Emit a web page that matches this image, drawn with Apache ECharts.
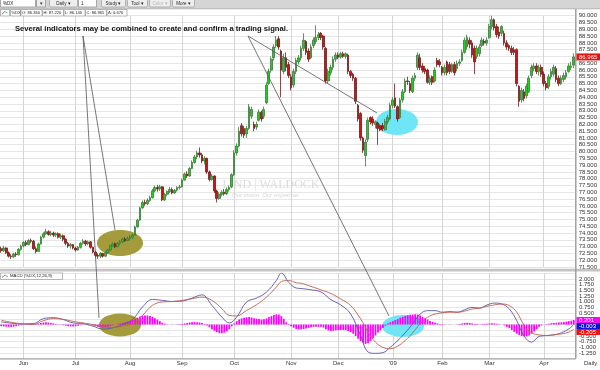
<!DOCTYPE html>
<html><head><meta charset="utf-8">
<script src="https://cdn.jsdelivr.net/npm/echarts@6/dist/echarts.min.js"></script>
<style>html,body{margin:0;padding:0;background:#fff;}#c{width:600px;height:370px;}</style>
</head><body><div id="c"></div>
<script>
// ---------- DATA ----------
const monthLabels = ['Jun','Jul','Aug','Sep','Oct','Nov','Dec',"'09",'Feb','Mar','Apr'];
const monthStartIdx = [9,30,52,73,94,117,136,158,178,197,219];
const symbol = '%DX';
const annotation = 'Several indicators may be combined to create and confirm a trading signal.';

const opens = [72.85,72.70,72.90,72.55,72.30,72.25,72.45,72.40,72.80,
73.05,73.30,73.15,73.45,73.40,72.85,72.65,73.20,73.70,73.95,74.10,73.90,74.00,73.85,73.95,73.70,73.80,73.55,73.25,73.05,73.15,
72.90,72.75,72.95,73.25,73.40,73.20,73.35,72.95,72.60,72.35,72.30,72.50,72.30,72.55,72.75,73.05,73.20,73.00,73.25,73.35,73.55,73.45,
73.60,73.70,73.85,74.45,74.95,75.85,76.25,76.15,76.40,76.60,77.10,77.35,77.25,77.40,76.45,76.85,77.05,77.20,76.95,77.15,77.35,
77.40,77.90,78.35,78.20,78.75,79.20,79.60,79.90,79.75,79.30,79.50,78.50,77.95,78.20,77.10,76.55,76.85,77.00,76.90,77.20,77.40,
78.30,79.90,80.40,81.90,81.70,81.30,81.70,82.60,82.00,81.80,82.30,82.90,82.60,83.60,85.00,86.00,86.90,87.80,88.30,87.40,85.90,86.90,86.40,
85.50,84.90,85.90,86.60,86.90,87.60,88.10,87.40,86.90,87.80,88.10,88.40,88.70,88.50,87.60,85.20,85.80,86.20,86.80,
87.10,86.95,87.20,87.00,87.10,85.90,85.70,85.40,83.40,82.80,81.00,79.70,80.90,82.50,82.40,82.00,82.10,81.90,81.90,81.60,82.20,82.40,
83.40,83.95,83.30,82.50,83.80,84.40,85.20,85.00,84.40,85.40,86.20,86.90,86.30,86.10,86.00,85.10,85.50,85.20,86.70,86.60,
86.20,85.80,86.60,86.40,85.90,86.40,86.10,86.50,86.70,87.30,87.70,88.20,88.00,87.60,87.00,87.20,87.80,88.10,88.00,
88.40,89.20,89.70,89.20,88.80,88.70,88.70,88.00,87.80,87.60,87.50,87.50,84.80,83.80,84.40,84.10,84.40,85.60,86.10,86.30,85.90,86.20,
85.70,85.00,84.80,85.50,85.70,86.10,85.40,85.00,85.30,85.50,85.90,86.20,86.360];
const closes = [72.70,72.90,72.55,72.30,72.25,72.45,72.40,72.80,73.05,
73.30,73.15,73.45,73.40,72.85,72.65,73.20,73.70,73.95,74.10,73.90,74.00,73.85,73.95,73.70,73.80,73.55,73.25,73.05,73.15,72.90,
72.75,72.95,73.25,73.40,73.20,73.35,72.95,72.60,72.35,72.30,72.50,72.30,72.55,72.75,73.05,73.20,73.00,73.25,73.35,73.55,73.45,73.60,
73.70,73.85,74.45,74.95,75.85,76.25,76.15,76.40,76.60,77.10,77.35,77.25,77.40,76.45,76.85,77.05,77.20,76.95,77.15,77.35,77.40,
77.90,78.35,78.20,78.75,79.20,79.60,79.90,79.75,79.30,79.50,78.50,77.95,78.20,77.10,76.55,76.85,77.00,76.90,77.20,77.35,78.30,
79.90,80.40,81.50,81.30,81.20,81.70,83.30,83.10,81.70,82.00,82.90,82.40,83.10,84.90,85.90,86.80,87.70,88.20,87.70,86.00,86.90,86.20,85.60,
84.70,85.90,86.70,86.90,87.60,88.20,87.30,86.80,87.70,88.20,88.40,88.60,88.40,87.70,85.20,85.90,86.20,86.80,87.10,
86.95,87.20,87.00,87.20,85.90,85.60,85.40,83.70,82.40,81.00,80.10,80.70,82.30,82.20,82.10,82.20,81.70,81.60,81.70,82.20,82.50,83.40,
83.80,83.35,82.40,83.80,84.40,85.20,85.15,84.50,85.40,85.60,87.10,86.20,86.00,85.90,85.10,85.40,85.10,86.00,86.40,86.40,
85.80,86.20,85.80,85.90,86.40,85.80,86.50,86.60,87.30,88.20,88.40,87.90,87.10,86.60,87.60,87.70,88.20,88.00,88.20,
89.20,89.70,89.10,88.60,88.50,89.20,88.00,87.70,87.60,87.30,87.30,85.00,83.70,84.50,83.90,84.80,85.40,86.20,86.30,85.90,86.20,85.70,
85.00,84.70,85.50,85.90,86.20,85.30,85.00,85.40,85.60,85.80,86.30,86.295,86.965];
const lows = [72.55,72.60,72.45,72.20,72.10,72.15,72.25,72.35,72.70,
72.95,73.05,73.10,73.25,72.75,72.50,72.60,73.15,73.60,73.85,73.80,73.75,73.70,73.70,73.60,73.55,73.40,73.10,72.90,72.85,72.80,
72.65,72.70,72.85,73.15,73.05,73.10,72.85,72.50,72.20,72.10,72.15,72.20,72.25,72.45,72.65,72.95,72.90,72.95,73.10,73.25,73.35,73.40,
73.45,73.55,73.80,74.40,74.90,75.80,76.00,76.05,76.30,76.55,77.00,77.05,77.10,76.35,76.35,76.70,76.95,76.85,76.90,77.05,77.20,
77.35,77.85,78.05,78.15,78.70,79.10,79.45,79.55,79.15,79.05,78.35,77.80,77.85,76.95,76.25,76.45,76.70,76.75,76.80,77.05,77.30,
78.20,79.70,80.30,81.10,81.00,81.00,81.60,82.40,81.50,81.60,82.20,82.20,82.40,83.50,84.90,85.80,86.70,87.60,87.50,84.00,85.70,85.90,85.40,
84.50,84.70,85.70,86.40,86.70,87.40,87.10,86.60,86.80,87.60,87.90,88.20,88.20,87.50,85.00,85.00,85.60,86.00,86.60,
86.80,86.85,86.90,86.85,85.70,85.40,85.20,83.50,82.20,80.80,79.90,78.90,80.70,82.00,81.90,81.70,80.50,81.50,81.50,81.55,82.00,82.30,
83.20,83.20,82.20,82.40,83.60,84.30,84.90,84.30,84.30,85.20,86.00,86.00,85.80,85.70,85.00,84.90,84.90,85.10,86.20,86.20,
85.60,85.60,85.60,85.70,85.80,85.60,85.90,86.30,86.60,87.20,87.50,87.60,86.90,85.70,86.80,87.00,87.70,87.80,87.80,
88.30,89.00,88.90,88.40,88.30,88.50,87.80,87.50,87.40,87.10,87.10,84.80,83.30,83.60,83.70,83.90,84.30,85.40,85.90,85.70,85.60,85.50,
84.80,84.50,84.60,85.30,85.50,85.10,84.80,84.90,85.10,85.30,85.80,86.00,86.140];
const highs = [73.00,73.05,72.95,72.65,72.45,72.55,72.60,72.90,73.15,
73.40,73.45,73.55,73.60,73.50,73.00,73.30,73.80,74.05,74.30,74.20,74.15,74.10,74.05,74.05,73.95,73.90,73.60,73.35,73.25,73.20,
73.00,73.05,73.35,73.55,73.50,73.45,73.40,73.00,72.70,72.50,72.60,72.55,72.65,72.85,73.15,73.30,73.30,73.35,73.50,73.65,73.70,73.75,
73.85,73.95,74.55,75.05,75.95,76.40,76.45,76.55,76.75,77.25,77.50,77.55,77.55,77.45,76.95,77.15,77.40,77.35,77.25,77.45,77.55,
78.00,78.45,78.55,78.85,79.35,79.75,80.05,80.30,79.90,79.65,79.55,78.60,78.35,78.25,77.20,77.00,77.15,77.25,77.35,77.50,78.40,
80.10,80.60,81.80,82.10,81.90,81.90,83.50,83.30,82.20,82.20,83.10,83.00,83.30,85.10,86.10,87.00,87.90,88.50,88.50,87.50,87.20,87.30,86.60,
85.70,86.10,86.90,87.10,87.80,88.70,88.20,87.60,87.90,88.40,89.30,88.80,88.80,88.60,87.70,86.10,86.40,87.00,87.30,
87.30,87.35,87.35,87.30,87.20,86.00,85.80,85.50,83.50,82.90,81.10,80.90,82.50,82.60,82.60,82.30,82.20,82.00,82.10,82.40,82.70,83.60,
84.00,85.00,83.40,83.95,84.60,85.40,85.50,85.20,85.60,85.80,87.30,87.20,86.50,86.30,86.10,85.60,85.60,86.20,86.90,86.80,
86.30,86.40,86.70,86.60,86.50,86.60,86.70,86.80,87.50,88.40,88.60,88.40,88.20,87.80,87.80,87.90,88.40,88.30,88.40,
89.40,90.00,89.80,89.40,89.20,89.30,88.90,88.20,87.90,87.80,87.70,87.60,84.90,84.70,84.60,85.00,85.60,86.40,86.50,86.50,86.40,86.40,
85.90,85.20,85.70,86.10,86.40,86.30,85.60,85.60,85.80,86.00,86.50,86.60,87.220];

const histogram = [-0.07,-0.08,-0.09,-0.1,-0.1,-0.09,-0.07,-0.05,-0.03,-0.01,
0.02,0.04,0.05,0.04,0.02,0.04,0.07,0.09,0.1,0.09,
0.07,0.05,0.03,0.01,-0.01,-0.03,-0.05,-0.07,-0.08,-0.08,
-0.07,-0.05,-0.03,-0.01,0.0,0.01,-0.01,-0.04,-0.07,-0.1,
-0.12,-0.13,-0.12,-0.1,-0.07,-0.03,0.0,0.03,0.05,0.07,
0.1,0.13,0.16,0.19,0.24,0.3,0.35,0.38,0.4,0.4,
0.38,0.34,0.28,0.22,0.15,0.08,0.04,0.01,0.0,-0.01,
0.0,0.01,0.02,0.03,0.05,0.07,0.09,0.1,0.11,0.1,
0.09,0.07,0.03,-0.04,-0.12,-0.2,-0.27,-0.33,-0.37,-0.38,
-0.35,-0.3,-0.2,-0.08,0.05,0.15,0.22,0.27,0.3,0.32,
0.33,0.31,0.28,0.26,0.24,0.22,0.23,0.27,0.32,0.37,
0.42,0.45,0.44,0.37,0.25,0.1,-0.02,-0.08,-0.14,-0.19,
-0.21,-0.21,-0.2,-0.17,-0.14,-0.12,-0.11,-0.1,-0.1,-0.1,
-0.13,-0.2,-0.26,-0.28,-0.27,-0.25,-0.24,-0.24,-0.24,-0.25,
-0.28,-0.33,-0.4,-0.5,-0.62,-0.72,-0.8,-0.85,-0.82,-0.72,
-0.6,-0.48,-0.35,-0.25,-0.15,-0.05,0.05,0.1,0.15,0.2,
0.24,0.3,0.34,0.38,0.41,0.43,0.44,0.45,0.44,0.4,
0.34,0.28,0.22,0.16,0.12,0.08,0.05,0.03,0.02,0.01,
0.0,-0.01,0.0,0.0,0.01,0.03,0.05,0.07,0.08,0.07,
0.05,0.03,0.02,0.01,0.02,0.03,0.04,0.05,0.06,0.05,
0.04,0.02,0.0,-0.04,-0.1,-0.16,-0.24,-0.32,-0.4,-0.46,
-0.5,-0.52,-0.52,-0.48,-0.4,-0.3,-0.2,-0.1,-0.04,0.0,
0.02,0.04,0.06,0.07,0.08,0.09,0.1,0.11,0.13,0.15,0.17,0.201];

const macdPts = [[0,0.12],[4,0.06],[8,0.03],[13,0.04],[17,0.26],[21,0.30],[25,0.22],[29,0.07],[33,0.04],[37,-0.07],[41,-0.20],[45,-0.14],[49,0.0],[53,0.22],[57,0.77],[61,1.10],[65,1.06],[69,1.01],[73,1.03],[77,1.16],[81,1.30],[85,0.84],[89,0.33],[92,0.07],[95,0.33],[99,0.99],[103,1.16],[107,1.42],[111,1.93],[113,2.26],[116,1.85],[119,1.60],[121,1.58],[125,1.52],[129,1.43],[133,1.09],[137,0.86],[141,0.46],[145,-0.48],[148,-1.20],[151,-1.26],[154,-1.23],[157,-0.99],[160,-0.70],[163,-0.36],[166,0.03],[169,0.46],[172,0.61],[175,0.61],[178,0.54],[181,0.57],[184,0.54],[187,0.65],[190,0.75],[193,0.72],[196,0.86],[199,0.94],[202,0.90],[205,0.68],[208,0.17],[211,-0.51],[214,-0.77],[217,-0.52],[220,-0.48],[223,-0.45],[226,-0.36],[229,-0.19],[231,-0.003]];
const signalPts = [[0,0.19],[4,0.10],[8,0.04],[13,0.01],[17,0.17],[21,0.26],[25,0.23],[29,0.14],[33,0.07],[37,0.0],[41,-0.10],[45,-0.13],[49,-0.06],[53,0.04],[57,0.40],[61,0.84],[65,0.99],[69,1.01],[73,1.06],[77,1.13],[81,1.20],[85,1.06],[89,0.70],[92,0.40],[95,0.38],[99,0.62],[103,0.87],[107,1.20],[111,1.64],[113,1.88],[116,1.93],[119,1.83],[121,1.81],[125,1.67],[129,1.52],[133,1.36],[137,1.12],[141,0.83],[145,0.25],[148,-0.33],[151,-0.77],[154,-1.00],[157,-1.06],[160,-0.94],[163,-0.70],[166,-0.36],[169,0.03],[172,0.32],[175,0.46],[178,0.51],[181,0.54],[184,0.54],[187,0.59],[190,0.68],[193,0.72],[196,0.80],[199,0.86],[202,0.90],[205,0.83],[208,0.54],[211,-0.04],[214,-0.36],[217,-0.45],[220,-0.48],[223,-0.45],[226,-0.41],[229,-0.33],[231,-0.205]];

// ---------- CHART ----------
const N = opens.length;
const cats = opens.map((_, i) => String(i));
const candles = opens.map((o, i) => [o, closes[i], lows[i], highs[i]]);
const isMonth = (idx) => monthStartIdx.indexOf(idx) >= 0;
const monthOf = (idx) => monthLabels[monthStartIdx.indexOf(idx)];
const FONT = 'Liberation Sans';
const GRID_L = -2, GRID_W = 577;

const chart = echarts.init(document.getElementById('c'), null, {renderer: 'canvas'});
const xBase = {
  type: 'category', data: cats, boundaryGap: true,
  axisLine: {show: false}, axisTick: {show: false},
  splitLine: {show: true, alignWithLabel: true, interval: (i) => isMonth(i), lineStyle: {color: '#d4d4d4', width: 1}},
};
chart.setOption({
  animation: false,
  backgroundColor: '#ffffff',
  grid: [
    {left: GRID_L, width: GRID_W, top: 15.7, height: 251.3},
    {left: GRID_L, width: GRID_W, top: 273.2, height: 85.6}
  ],
  xAxis: [
    Object.assign({}, xBase, {gridIndex: 0, axisLabel: {show: false}}),
    Object.assign({}, xBase, {gridIndex: 1,
      axisLabel: {show: true, interval: (i) => isMonth(i), formatter: (v, i) => isMonth(+v) ? monthOf(+v) : '',
        fontFamily: FONT, fontSize: 6, color: '#333', margin: 1.5}})
  ],
  yAxis: [
    {gridIndex: 0, type: 'value', position: 'right', min: 71.5, max: 90, interval: 0.5,
     axisLine: {show: false}, axisTick: {show: false},
     axisLabel: {formatter: (v) => v.toFixed(3), fontFamily: FONT, fontSize: 6, color: '#333', margin: 4},
     splitLine: {lineStyle: {color: '#e6e6e6', width: 1}}},
    {gridIndex: 1, type: 'value', position: 'right', min: -1.5, max: 2.25, interval: 0.25,
     axisLine: {show: false}, axisTick: {show: false},
     axisLabel: {formatter: (v) => v.toFixed(3), fontFamily: FONT, fontSize: 6, color: '#333', margin: 4,
       showMinLabel: false, showMaxLabel: false},
     splitLine: {lineStyle: {color: '#e6e6e6', width: 1}}}
  ],
  series: [
    {type: 'candlestick', xAxisIndex: 0, yAxisIndex: 0, data: candles, barWidth: 2.2, z: 5,
     itemStyle: {color: '#22d022', color0: '#cc1616', borderColor: '#3c7a3c', borderColor0: '#6e1a1a', borderWidth: 0.8}},
    {type: 'bar', xAxisIndex: 1, yAxisIndex: 1, data: histogram, barWidth: 1.8, z: 4,
     itemStyle: {color: '#ff00ff'}},
    {type: 'line', xAxisIndex: 1, yAxisIndex: 1, data: macdPts, smooth: 0.4, symbol: 'none', z: 6,
     lineStyle: {color: '#5555aa', width: 0.9}},
    {type: 'line', xAxisIndex: 1, yAxisIndex: 1, data: signalPts, smooth: 0.4, symbol: 'none', z: 6,
     lineStyle: {color: '#c0604c', width: 0.9}}
  ]
});

// ---------- DECORATIONS ----------
function txt(x, y, text, font, fill, align, extra) {
  return Object.assign({type: 'text', z: 20, style: {x: x, y: y, text: text, font: font, fill: fill || '#222',
    align: align || 'left', verticalAlign: 'middle', textAlign: align || 'left', textVerticalAlign: 'middle'}}, extra || {});
}
function rect(x, y, w, h, fill, stroke, z, r) {
  return {type: 'rect', z: z || 20, shape: {x: x, y: y, width: w, height: h, r: r || 0},
    style: {fill: fill, stroke: stroke || null, lineWidth: stroke ? 0.7 : 0}};
}
function line(x1, y1, x2, y2, color, w, z) {
  return {type: 'line', z: z || 20, shape: {x1: x1, y1: y1, x2: x2, y2: y2}, style: {stroke: color, lineWidth: w || 1}};
}
const g = [];
// watermark
g.push(txt(271, 185, 'LIND | WALDOCK', '12px "Liberation Serif"', '#dcdcdc', 'center', {z: 1}));
g.push(txt(266, 195, 'Our vision. Our expertise.', 'italic 6px ' + FONT, '#d6d6d6', 'center', {z: 1}));
// ellipses (under the marks)
g.push({type: 'ellipse', z: 1, shape: {cx: 120, cy: 243, rx: 23, ry: 13}, style: {fill: '#a39b3c'}});
g.push({type: 'ellipse', z: 1, shape: {cx: 120, cy: 325, rx: 21, ry: 11.5}, style: {fill: '#a39b3c'}});
g.push({type: 'ellipse', z: 1, shape: {cx: 397, cy: 122, rx: 21, ry: 13}, style: {fill: '#6ee6f6'}});
g.push({type: 'ellipse', z: 1, shape: {cx: 403, cy: 326, rx: 21, ry: 11}, style: {fill: '#6ee6f6'}});
// annotation lines
g.push(line(83, 36, 115, 230, '#555', 0.8));
g.push(line(83, 36, 99, 318, '#555', 0.8));
g.push(line(248, 36, 377, 113, '#555', 0.8));
g.push(line(248, 36, 389, 316, '#555', 0.8));
g.push(txt(15, 29, annotation, 'bold 7.65px ' + FONT, '#111', 'left'));
// panel separators & axis lines
g.push(rect(0, 268.8, 600, 2.6, '#c4c4c4', null, 19));
g.push(line(0, 358.8, 576, 358.8, '#9a9a9a', 1, 19));
g.push(line(575.8, 9, 575.8, 358.8, '#9a9a9a', 1.4, 19));
g.push(txt(584, 363, 'Daily', '6px ' + FONT, '#333', 'left'));
// MACD legend box
g.push(rect(0.5, 273, 62, 6.5, '#ffffff', '#999', 20));
g.push(line(2, 277.5, 5, 275, '#5555aa', 0.8, 21));
g.push(line(5, 275, 8, 277, '#c0604c', 0.8, 21));
g.push(txt(10, 276.3, 'MACD (' + symbol + ',12,26,9)', '4.3px ' + FONT, '#222', 'left', {z: 21}));
// toolbar
g.push(rect(0, 0, 600, 8.8, '#d5d5d5', null, 20));
g.push(line(0, 8.8, 600, 8.8, '#a8a8a8', 0.8, 20));
g.push(rect(0.5, -1, 35, 8, '#ffffff', '#8a8a8a', 21));
g.push(txt(3, 3.3, symbol, '4.5px ' + FONT, '#222', 'left', {z: 22}));
g.push(rect(36.5, -1, 9, 8, '#ececec', '#8a8a8a', 21));
g.push(txt(41, 3.3, '▾', '5px ' + FONT, '#333', 'center', {z: 22}));
const btns = [[49.5, 28, 'Daily ▾', '#222'], [101.5, 24, 'Study ▾', '#222'], [127.5, 20, 'Tool ▾', '#222'], [149.5, 21, 'Color ▾', '#b8b8b8'], [172.5, 22, 'More ▾', '#222']];
btns.forEach(b => { g.push(rect(b[0], -1, b[1], 8, '#eeeeee', '#9a9a9a', 21, 1.5)); g.push(txt(b[0] + b[1] / 2, 3.3, b[2], '4.5px ' + FONT, b[3], 'center', {z: 22})); });
g.push(rect(78.5, -1, 18, 8, '#ffffff', '#8a8a8a', 21));
g.push(txt(81, 3.3, '1', '4.5px ' + FONT, '#222', 'left', {z: 22}));
// info row
const last = N - 1;
const infos = [symbol, 'O: ' + opens[last].toFixed(3), 'H: ' + highs[last].toFixed(3), 'L: ' + lows[last].toFixed(3), 'C: ' + closes[last].toFixed(3), 'Δ: ' + (closes[last] - closes[last - 1]).toFixed(3)];
const infoW = [10, 21, 21, 21, 21, 20];
g.push(rect(0.5, 9.5, 9, 6.5, '#ffffff', '#999', 20));
g.push(line(2, 14.5, 4.5, 11.5, '#3355aa', 0.8, 21));
g.push(line(4.5, 11.5, 7.5, 13, '#33aa55', 0.8, 21));
let ix = 10.5;
infos.forEach((t, k) => { g.push(rect(ix, 9.5, infoW[k], 6.5, '#ffffff', '#999', 20)); g.push(txt(ix + 1, 12.9, t, '4.1px ' + FONT, '#222', 'left', {z: 21})); ix += infoW[k] + 0.5; });
// value boxes on right axis
const yClose = chart.convertToPixel({yAxisIndex: 0}, closes[last]);
g.push(rect(576.5, yClose - 3.5, 23.5, 7, '#ee1111', null, 21));
g.push(txt(579, yClose, closes[last].toFixed(3), '6px ' + FONT, '#ffffff', 'left', {z: 22}));
const macdLast = macdPts[macdPts.length - 1][1], sigLast = signalPts[signalPts.length - 1][1], histLast = histogram[last];
let yb = chart.convertToPixel({yAxisIndex: 1}, histLast) - 3;
[[histLast, '#ff00ff', '#ffffff'], [macdLast, '#1010dd', '#ffffff'], [sigLast, '#ee1111', '#ffffff']].forEach((b) => {
  g.push(rect(576.5, yb, 23.5, 6, b[1], null, 21));
  g.push(txt(579, yb + 3, b[0].toFixed(3), '6px ' + FONT, b[2], 'left', {z: 22}));
  yb += 6;
});
chart.setOption({graphic: {elements: g}});
</script></body></html>
